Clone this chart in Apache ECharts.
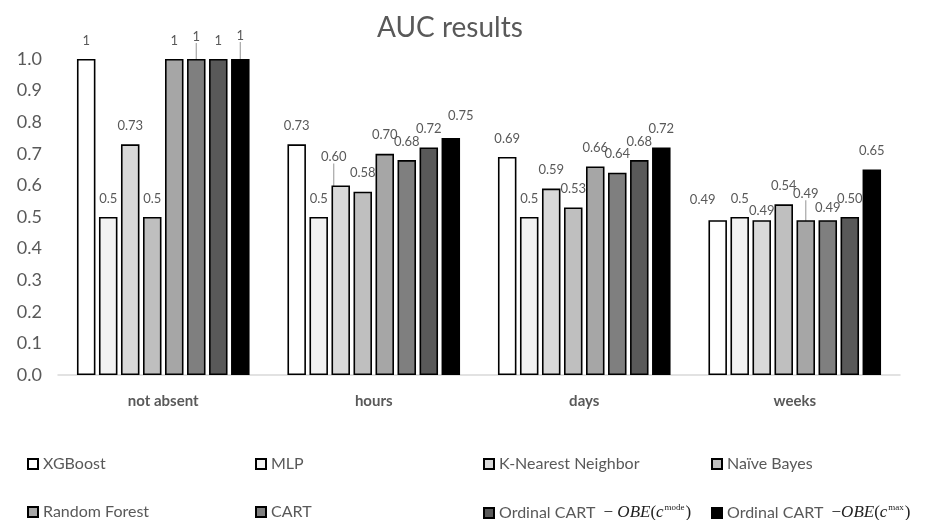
<!DOCTYPE html>
<html>
<head>
<meta charset="utf-8">
<script src="https://cdn.jsdelivr.net/npm/echarts@6/dist/echarts.min.js"></script>
<style>html,body{margin:0;padding:0;background:#fff}#c{width:925px;height:520px}</style>
</head>
<body>
<div id="c"></div>
<script>
// ---- data ----
const categories = ['not absent', 'hours', 'days', 'weeks'];
const seriesNames = ['XGBoost', 'MLP', 'K-Nearest Neighbor', 'Naïve Bayes',
  'Random Forest', 'CART', 'Ordinal CART −OBE(c^mode)', 'Ordinal CART −OBE(c^max)'];
const xgboost = [1, 0.73, 0.69, 0.49];
const mlp = [0.5, 0.5, 0.5, 0.5];
const knn = [0.73, 0.60, 0.59, 0.49];
const naiveBayes = [0.5, 0.58, 0.53, 0.54];
const randomForest = [1, 0.70, 0.66, 0.49];
const cart = [1, 0.68, 0.64, 0.49];
const ordinalMode = [1, 0.72, 0.68, 0.50];
const ordinalMax = [1, 0.75, 0.72, 0.65];
const xgboostLabels = ['1', '0.73', '0.69', '0.49'];
const mlpLabels = ['0.5', '0.5', '0.5', '0.5'];
const knnLabels = ['0.73', '0.60', '0.59', '0.49'];
const naiveBayesLabels = ['0.5', '0.58', '0.53', '0.54'];
const randomForestLabels = ['1', '0.70', '0.66', '0.49'];
const cartLabels = ['1', '0.68', '0.64', '0.49'];
const ordinalModeLabels = ['1', '0.72', '0.68', '0.50'];
const ordinalMaxLabels = ['1', '0.75', '0.72', '0.65'];
const yTicks = [0, 0.1, 0.2, 0.3, 0.4, 0.5, 0.6, 0.7, 0.8, 0.9, 1.0];

// ---- styling ----
const values = [xgboost, mlp, knn, naiveBayes, randomForest, cart, ordinalMode, ordinalMax];
const labels = [xgboostLabels, mlpLabels, knnLabels, naiveBayesLabels, randomForestLabels, cartLabels, ordinalModeLabels, ordinalMaxLabels];
const fills = ['#ffffff', '#f2f2f2', '#d9d9d9', '#bfbfbf', '#a6a6a6', '#7f7f7f', '#595959', '#000000'];
const FONT = 'Lato';
const GREY = '#595959';
// manually moved labels (series, category) -> offset, with leader line
const moved = {
  '5-0': {dx: 0, dy: -4, line: true},
  '7-0': {dx: 0, dy: -5, line: true},
  '2-1': {dx: -7, dy: -10, line: true},
  '7-1': {dx: 10, dy: -4},
  '0-3': {dx: -15, dy: -2},
  '2-3': {dx: 0, dy: 9},
  '4-3': {dx: 0, dy: -8, line: true},
  '5-3': {dx: 0, dy: 6}
};

const series = values.map((vals, s) => ({
  name: seriesNames[s],
  type: 'bar',
  barWidth: 18.5,
  barGap: '19%',
  itemStyle: {color: fills[s], borderColor: '#000', borderWidth: 1.6},
  label: {
    show: true, position: 'top', distance: 12,
    fontFamily: FONT, fontSize: 13, color: GREY,
    formatter: p => labels[p.seriesIndex][p.dataIndex]
  },
  labelLine: {show: false, lineStyle: {color: '#a6a6a6', width: 1.2}},
  labelLayout: p => {
    const m = moved[p.seriesIndex + '-' + p.dataIndex];
    return m ? {dx: m.dx, dy: m.dy} : {};
  },
  data: vals.map((v, c) => {
    const m = moved[s + '-' + c];
    return (m && m.line) ? {value: v, labelLine: {show: true, lineStyle: {color: '#a6a6a6', width: 1.2}}} : {value: v};
  })
}));

function legendFmt(name) {
  const m = name.match(/^(.*?)\s*−(\w+)\(c\^(\w+)\)$/);
  if (!m) return '{t|' + name + '}';
  const pre = m[3] === 'mode' ? '  {m|− }' : '  {m|−}';
  return '{t|' + m[1] + '}' + pre + '{i|' + m[2] + '}{m|(}{i|c}{s|' + m[3] + '}{m|)}';
}
const legendRich = {
  t: {fontFamily: FONT, fontSize: 16, color: GREY, lineHeight: 22},
  m: {fontFamily: 'Liberation Serif', fontSize: 17, color: '#222', lineHeight: 22},
  i: {fontFamily: 'Liberation Serif', fontSize: 17, fontStyle: 'italic', color: '#222', lineHeight: 22},
  s: {fontFamily: 'Liberation Serif', fontSize: 9, color: '#222', lineHeight: 22, verticalAlign: 'top', padding: [1, 1, 0, 1]}
};
const legends = seriesNames.map((nm, i) => ({
  left: 22 + 228 * (i % 4),
  top: i < 4 ? 451 : (i < 6 ? 499 : 497),
  itemWidth: 10,
  itemHeight: 10,
  itemGap: 4,
  icon: 'rect',
  data: [nm],
  formatter: legendFmt,
  textStyle: {fontFamily: FONT, fontSize: 16, color: GREY, rich: legendRich}
}));

const chart = echarts.init(document.getElementById('c'), null, {renderer: 'canvas'});
chart.setOption({
  animation: false,
  backgroundColor: '#fff',
  title: {
    text: 'AUC results', left: 372, top: 9,
    textStyle: {fontFamily: FONT, fontSize: 28, fontWeight: 'normal', color: GREY}
  },
  legend: legends,
  grid: {left: 58, right: 25, top: 59, bottom: 145, containLabel: false},
  xAxis: {
    type: 'category', data: categories,
    axisLine: {lineStyle: {color: '#d9d9d9', width: 1.5}},
    axisTick: {show: false},
    axisLabel: {fontFamily: FONT, fontSize: 15, fontWeight: 'bold', color: GREY, margin: 19}
  },
  yAxis: {
    type: 'value', min: yTicks[0], max: yTicks[yTicks.length - 1], interval: 0.1,
    splitLine: {show: false},
    axisLine: {show: false},
    axisTick: {show: false},
    axisLabel: {fontFamily: FONT, fontSize: 18, color: GREY, margin: 16, formatter: v => v.toFixed(1)}
  },
  series: series
});
</script>
</body>
</html>
